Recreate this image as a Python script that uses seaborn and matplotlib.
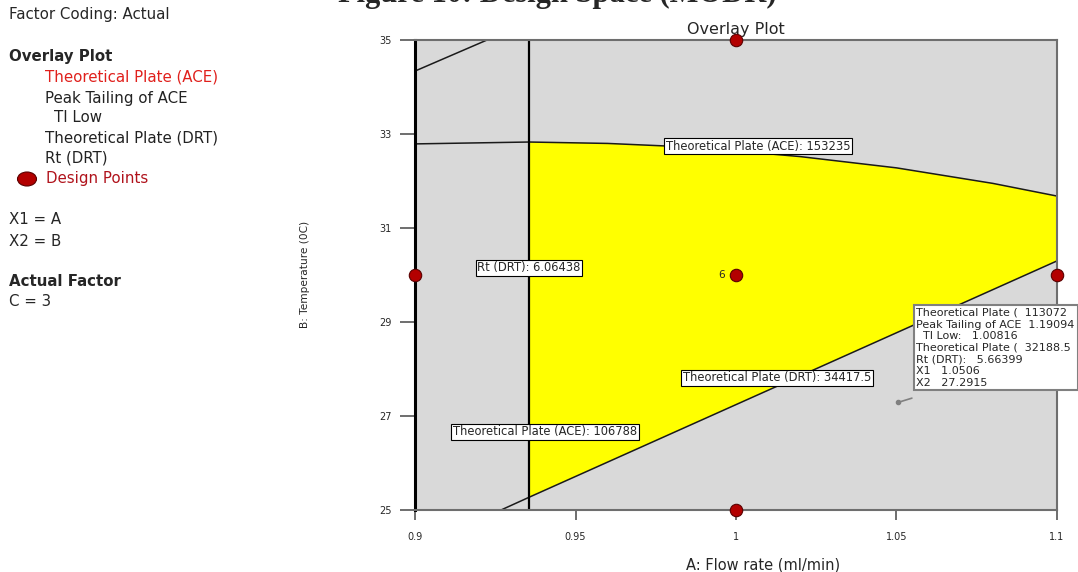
import matplotlib

matplotlib.use("Agg")
import matplotlib.pyplot as plt
from matplotlib.patches import Ellipse
import pandas as pd
import seaborn as sns

# design points (A: flow rate, B: temperature)
design_a = [1.0, 1.0, 1.0, 0.9, 1.1]
design_b = [35.0, 30.0, 25.0, 30.0, 30.0]

# contour boundaries
ace_high_a = [0.9, 0.9355, 0.96, 0.98, 1.0, 1.02, 1.05, 1.08, 1.1]
ace_high_b = [32.79, 32.83, 32.80, 32.74, 32.64, 32.52, 32.28, 31.95, 31.68]
drt_plate_a = [0.9268, 0.9355, 1.1]
drt_plate_b = [25.0, 25.27, 30.3]
rt_drt_a = [0.9355, 0.9355]
rt_drt_b = [25.0, 35.0]
tailing_a = [0.9, 0.9224]
tailing_b = [34.34, 35.0]

contour_labels = [
    ("Theoretical Plate (ACE): 153235", 1.0069, 32.74),
    ("Rt (DRT): 6.06438", 0.9355, 30.15),
    ("Theoretical Plate (DRT): 34417.5", 1.0128, 27.81),
    ("Theoretical Plate (ACE): 106788", 0.9405, 26.66),
]

flag_a, flag_b = 1.0506, 27.2915
flag_lines = [
    "Theoretical Plate (  113072",
    "Peak Tailing of ACE  1.19094",
    "  TI Low:   1.00816",
    "Theoretical Plate (  32188.5",
    "Rt (DRT):   5.66399",
    "X1   1.0506",
    "X2   27.2915",
]

x_ticks = [0.9, 0.95, 1.0, 1.05, 1.1]
x_tick_labels = ["0.9", "0.95", "1", "1.05", "1.1"]
y_ticks = [25, 27, 29, 31, 33, 35]

sns.set_style("white")
plt.rcParams["font.family"] = ["DejaVu Sans"]

fig = plt.figure(figsize=(10.78, 5.72), dpi=100)
ax = fig.add_axes([0.385, 0.1084, 0.5955, 0.8216])
ax.set_facecolor("#d9d9d9")

# yellow design space
upper = list(zip(ace_high_a[1:], ace_high_b[1:]))
lower = list(zip(drt_plate_a[1:], drt_plate_b[1:]))[::-1]
poly = upper + lower
ax.fill([p[0] for p in poly], [p[1] for p in poly], color="#ffff00", zorder=1, lw=0)

line_kw = dict(color="#1a1a1a", linewidth=1.1, sort=False, estimator=None, zorder=2, ax=ax)
sns.lineplot(x=ace_high_a, y=ace_high_b, **line_kw)
sns.lineplot(x=drt_plate_a, y=drt_plate_b, **line_kw)
sns.lineplot(x=tailing_a, y=tailing_b, **line_kw)
sns.lineplot(x=rt_drt_a, y=rt_drt_b, color="black", linewidth=1.6, sort=False,
             estimator=None, zorder=2, ax=ax)

pts = pd.DataFrame({"A": design_a, "B": design_b})
sns.scatterplot(data=pts, x="A", y="B", ax=ax, s=80, color="#b30000",
                edgecolor="#5a0000", linewidth=0.8, zorder=6, clip_on=False)
ax.text(0.9965, 30.0, "6", ha="right", va="center", fontsize=7.5)

for text, a, b in contour_labels:
    ax.text(a, b, text, ha="center", va="center", fontsize=8.3, zorder=5,
            bbox=dict(boxstyle="square,pad=0.15", fc="white", ec="black", lw=0.8))

# flag / tooltip
ax.plot([flag_a, 1.0548], [flag_b, 27.38], color="#808080", lw=1.2, zorder=5)
ax.plot([flag_a], [flag_b], "o", color="#808080", ms=3, zorder=5)
ax.text(1.0562, 29.30, "\n".join(flag_lines), ha="left", va="top", fontsize=8,
        linespacing=1.2, zorder=7,
        bbox=dict(boxstyle="square,pad=0.25", fc="white", ec="#808080", lw=1.5))

ax.set_xlim(0.9, 1.1)
ax.set_ylim(25, 35)
ax.set_xticks(x_ticks)
ax.set_xticklabels(x_tick_labels)
ax.set_yticks(y_ticks)
ax.tick_params(axis="x", direction="out", length=7, width=1.2, color="#555555",
               labelsize=7, pad=9, bottom=True)
ax.tick_params(axis="y", direction="out", length=11, width=1.2, color="#555555",
               labelsize=7, pad=6, left=True)
ax.set_xlabel("")
ax.set_ylabel("")
for side in ["top", "right", "bottom"]:
    ax.spines[side].set_color("#6e6e6e")
    ax.spines[side].set_linewidth(1.5)
ax.spines["left"].set_color("black")
ax.spines["left"].set_linewidth(2.2)
ax.set_title("Overlay Plot", fontsize=11.5, pad=4)

fig.text(763 / 1078, 1 - 565 / 572, "A: Flow rate (ml/min)", ha="center", va="center",
         fontsize=10.5)
fig.text(305 / 1078, 1 - 274 / 572, "B: Temperature (0C)", rotation=90, ha="center",
         va="center", fontsize=7.6)

# caption cropped at the very top, as in the source image
fig.text(557 / 1078, 1 - 2 / 572, "Figure 10: Design Space (MODR)", ha="center",
         va="baseline", fontsize=22, fontweight="bold", family=["Liberation Serif"])

# left side legend panel
left = 9 / 1078
fs = 10.8
fig.text(left, 1 - 15 / 572, "Factor Coding: Actual", fontsize=fs, va="center")
fig.text(left, 1 - 56 / 572, "Overlay Plot", fontsize=fs, fontweight="bold", va="center")
panel = [
    ("Theoretical Plate (ACE)", 45, 77, "#e0201c"),
    ("Peak Tailing of ACE", 45, 98, "#222222"),
    ("TI Low", 54, 118, "#222222"),
    ("Theoretical Plate (DRT)", 45, 138, "#222222"),
    ("Rt (DRT)", 45, 158, "#222222"),
    ("Design Points", 46, 179, "#b0121b"),
]
for text, px, py, col in panel:
    fig.text(px / 1078, 1 - py / 572, text, fontsize=fs, color=col, va="center")
fig.add_artist(Ellipse((27 / 1078, 1 - 179 / 572), 19 / 1078, 14 / 572,
                       transform=fig.transFigure, fc="#b30000", ec="#5a0000", lw=0.8))
fig.text(left, 1 - 220 / 572, "X1 = A", fontsize=fs, va="center")
fig.text(left, 1 - 241 / 572, "X2 = B", fontsize=fs, va="center")
fig.text(left, 1 - 281 / 572, "Actual Factor", fontsize=fs, fontweight="bold", va="center")
fig.text(left, 1 - 301 / 572, "C = 3", fontsize=fs, va="center")

fig.savefig("out.png", dpi=100)
